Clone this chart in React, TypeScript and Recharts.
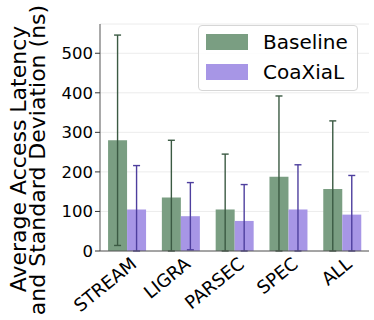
import { BarChart, Bar, XAxis, YAxis, CartesianGrid, ErrorBar } from "recharts"

const categories = ["STREAM", "LIGRA", "PARSEC", "SPEC", "ALL"]
const baseline = [280, 135, 105, 188, 157]
const baselineStd = [266, 145, 140, 204, 172]
const coaxial = [105, 88, 76, 105, 92]
const coaxialStd = [111, 85, 92, 113, 99]
const yTicks = [0, 100, 200, 300, 400, 500]

// error bars are clipped at zero like the original plot
const data = categories.map((name, i) => ({
  name,
  baseline: baseline[i],
  baseErr: [Math.min(baselineStd[i], baseline[i]), baselineStd[i]],
  coaxial: coaxial[i],
  coaxErr: [Math.min(coaxialStd[i], coaxial[i]), coaxialStd[i]],
}))

const FONT = "DejaVu Sans, sans-serif"
const GREEN = "#7a9e82"
const PURPLE = "#a796e6"

function XTick({ x, payload }: any) {
  return (
    <g transform={`translate(${x + 11}, 266) rotate(-39)`}>
      <text x={0} y={0} textAnchor="end" fontFamily={FONT} fontSize={18} fill="#000">
        {payload.value}
      </text>
    </g>
  )
}

function YTitle() {
  return (
    <g fontFamily={FONT} fontSize={22} fill="#000">
      <text x={26} y={159} transform="rotate(-90 26 159)" textAnchor="middle">
        Average Access Latency
      </text>
      <text x={45} y={160} transform="rotate(-90 45 160)" textAnchor="middle">
        and Standard Deviation (ns)
      </text>
    </g>
  )
}

function LegendBox() {
  const row = (color: string, label: string, top: number) => (
    <div style={{ position: "absolute", left: 7, top, display: "flex", alignItems: "center" }}>
      <div style={{ width: 42, height: 16, background: color }} />
      <span style={{ marginLeft: 15, fontSize: 20, fontFamily: FONT, lineHeight: "20px" }}>{label}</span>
    </div>
  )
  return (
    <div
      style={{
        position: "absolute",
        left: 198,
        top: 25,
        width: 160,
        height: 66,
        border: "1px solid #d6d6d6",
        borderRadius: 4,
        background: "rgba(255,255,255,0.85)",
        boxSizing: "border-box",
      }}
    >
      {row(GREEN, "Baseline", 6)}
      {row(PURPLE, "CoaXiaL", 36)}
    </div>
  )
}

export default function App() {
  return (
    <div style={{ position: "absolute", left: 0, top: 0, width: 374, height: 320 }}>
      <BarChart
        width={374}
        height={320}
        data={data}
        margin={{ top: 24, right: 5, bottom: 0, left: 0 }}
        barCategoryGap="15%"
        barGap={0}
      >
        <CartesianGrid vertical={false} stroke="#ececec" />
        <XAxis
          dataKey="name"
          interval={0}
          height={69}
          tickLine={false}
          axisLine={{ stroke: "#555" }}
          tick={<XTick />}
        />
        <XAxis xAxisId="top" orientation="top" dataKey="name" height={0} tick={false} tickLine={false} axisLine={{ stroke: "#8a8a8a" }} />
        <YAxis
          width={100}
          domain={[0, 574]}
          ticks={yTicks}
          tickSize={5}
          tick={{ fontSize: 16.5, fill: "#000", fontFamily: FONT }}
          tickLine={{ stroke: "#333" }}
          axisLine={{ stroke: "#555" }}
          label={{ content: () => <YTitle /> }}
        />
        <YAxis yAxisId="right" orientation="right" width={0} tick={false} tickLine={false} axisLine={{ stroke: "#8a8a8a" }} />
        <Bar dataKey="baseline" fill={GREEN} isAnimationActive={false}>
          <ErrorBar dataKey="baseErr" width={3.5} strokeWidth={1.4} stroke="#3b5a43" direction="y" />
        </Bar>
        <Bar dataKey="coaxial" fill={PURPLE} isAnimationActive={false}>
          <ErrorBar dataKey="coaxErr" width={3.5} strokeWidth={1.4} stroke="#4e3f9e" direction="y" />
        </Bar>
      </BarChart>
      <LegendBox />
    </div>
  )
}
